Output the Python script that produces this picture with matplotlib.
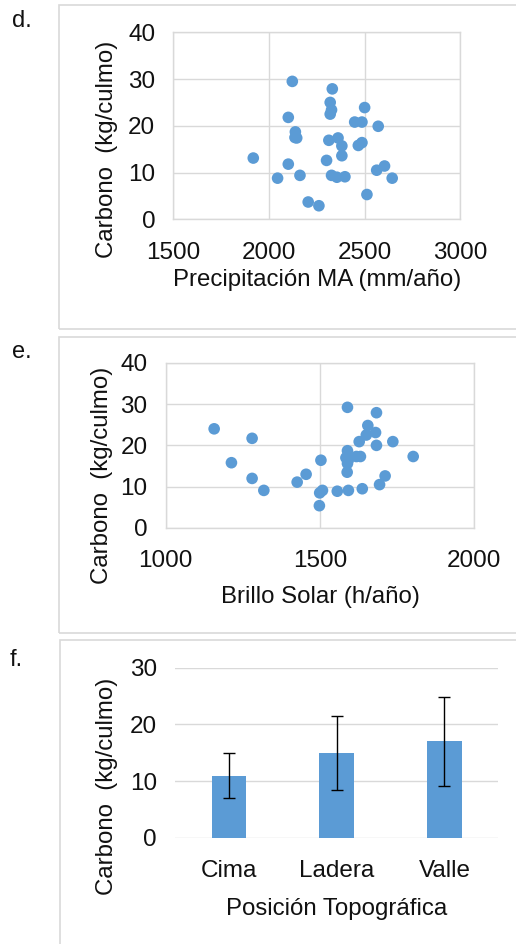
import matplotlib
matplotlib.use("Agg")
import matplotlib.pyplot as plt
from matplotlib.patches import Rectangle

plt.rcParams['font.family'] = ['Liberation Sans', 'DejaVu Sans']

# panel d: precipitation vs carbon
precip = [2122, 2331, 2320, 2327, 2320, 2500, 2101, 2448, 2486, 2571,
          2138, 2136, 2145, 2313, 2361, 2381, 2467, 2486, 2381, 1918,
          2301, 2101, 2563, 2604, 2045, 2162, 2327, 2355, 2397, 2644,
          2512, 2205, 2261]
carbon_d = [29.5, 27.9, 25.0, 23.4, 22.5, 23.9, 21.8, 20.8, 20.8, 19.9,
            18.7, 17.5, 17.4, 16.9, 17.4, 15.7, 15.8, 16.4, 13.6, 13.1,
            12.6, 11.8, 10.5, 11.4, 8.8, 9.4, 9.4, 9.0, 9.1, 8.8,
            5.3, 3.7, 2.9]

# panel e: sunshine vs carbon
sun = [1157, 1280, 1213, 1280, 1318, 1426, 1455, 1503, 1499, 1508,
       1498, 1556, 1592, 1637, 1589, 1683, 1655, 1650, 1680, 1627,
       1736, 1683, 1589, 1584, 1618, 1631, 1589, 1588, 1802, 1711,
       1693, 1592]
carbon_e = [24.0, 21.7, 15.8, 12.0, 9.1, 11.1, 13.0, 16.4, 8.5, 9.1,
            5.4, 8.9, 9.1, 9.5, 29.2, 27.9, 24.8, 22.5, 23.1, 20.9,
            20.9, 20.0, 18.7, 17.0, 17.3, 17.3, 15.6, 13.5, 17.3, 12.6,
            10.5, 16.5]

# panel f: topographic position
positions = ['Cima', 'Ladera', 'Valle']
carbon_mean = [11.0, 15.0, 17.0]
carbon_err = [3.9, 6.5, 7.8]

blue = '#5b9bd5'
grid = '#d9d9d9'
txt = '#111111'
W, H = 516, 944
tick_fs = 17.5
lab_fs = 17.3

fig = plt.figure(figsize=(W / 100, H / 100), dpi=100)


def box(x0, y0, x1, y1):
    fig.add_artist(Rectangle((x0 / W, 1 - y1 / H), (x1 - x0) / W, (y1 - y0) / H,
                             transform=fig.transFigure, fill=False,
                             edgecolor='#d9d9d9', lw=1.2))


def axes_px(left, top, right, bottom):
    return fig.add_axes([left / W, 1 - bottom / H, (right - left) / W, (bottom - top) / H])


def style_scatter(ax):
    ax.grid(True, color=grid, lw=1.0)
    ax.set_axisbelow(True)
    for s in ax.spines.values():
        s.set_color(grid)
        s.set_linewidth(1.0)
    ax.tick_params(length=0, labelsize=tick_fs, labelcolor=txt)
    ax.tick_params(axis='y', pad=13)
    ax.tick_params(axis='x', pad=16)


box(59, 5, 530, 329)
box(59, 337, 530, 633)
box(60, 640, 530, 960)

# d
ax = axes_px(173.3, 32.3, 460.3, 219.3)
ax.scatter(precip, carbon_d, s=70, color=blue, edgecolors='none', zorder=3)
ax.set_xlim(1500, 3000)
ax.set_ylim(0, 40)
ax.set_xticks([1500, 2000, 2500, 3000])
ax.set_yticks([0, 10, 20, 30, 40])
style_scatter(ax)
ax.set_xlabel('Precipitación MA (mm/año)', fontsize=lab_fs, color=txt, labelpad=4)
ax.set_ylabel('Carbono  (kg/culmo)', fontsize=lab_fs, color=txt, va='center')
ax.yaxis.set_label_coords(-0.231, 0.373)
fig.text(12 / W, 1 - 21 / H, 'd.', fontsize=17, color=txt, va='center')

# e
ax = axes_px(165.7, 362.7, 474.3, 528)
ax.scatter(sun, carbon_e, s=70, color=blue, edgecolors='none', zorder=3)
ax.set_xlim(1000, 2000)
ax.set_ylim(0, 40)
ax.set_xticks([1000, 1500, 2000])
ax.set_yticks([0, 10, 20, 30, 40])
style_scatter(ax)
ax.set_xlabel('Brillo Solar (h/año)', fontsize=lab_fs, color=txt, labelpad=10)
ax.set_ylabel('Carbono  (kg/culmo)', fontsize=lab_fs, color=txt, va='center')
ax.yaxis.set_label_coords(-0.207, 0.316)
fig.text(12 / W, 1 - 352 / H, 'e.', fontsize=17, color=txt, va='center')

# f
ax = axes_px(175, 667.7, 498.3, 838)
ax.bar(positions, carbon_mean, width=0.32, color=blue, zorder=3)
ax.errorbar(positions, carbon_mean, yerr=carbon_err, fmt='none', ecolor='black',
            elinewidth=1.0, capsize=4, capthick=1.0, zorder=4)
ax.set_xlim(-0.5, 2.5)
ax.set_ylim(0, 30)
ax.set_yticks([0, 10, 20, 30])
ax.grid(True, axis='y', color=grid, lw=1.0)
ax.set_axisbelow(True)
for s in ax.spines.values():
    s.set_visible(False)
ax.tick_params(length=0, labelsize=tick_fs, labelcolor=txt)
ax.tick_params(axis='y', pad=13)
ax.tick_params(axis='x', pad=16)
ax.set_xlabel('Posición Topográfica', fontsize=lab_fs, color=txt, labelpad=11)
ax.set_ylabel('Carbono  (kg/culmo)', fontsize=lab_fs, color=txt, va='center')
ax.yaxis.set_label_coords(-0.211, 0.302)
fig.text(10 / W, 1 - 660 / H, 'f.', fontsize=17, color=txt, va='center')

fig.savefig('out.png', dpi=100)
